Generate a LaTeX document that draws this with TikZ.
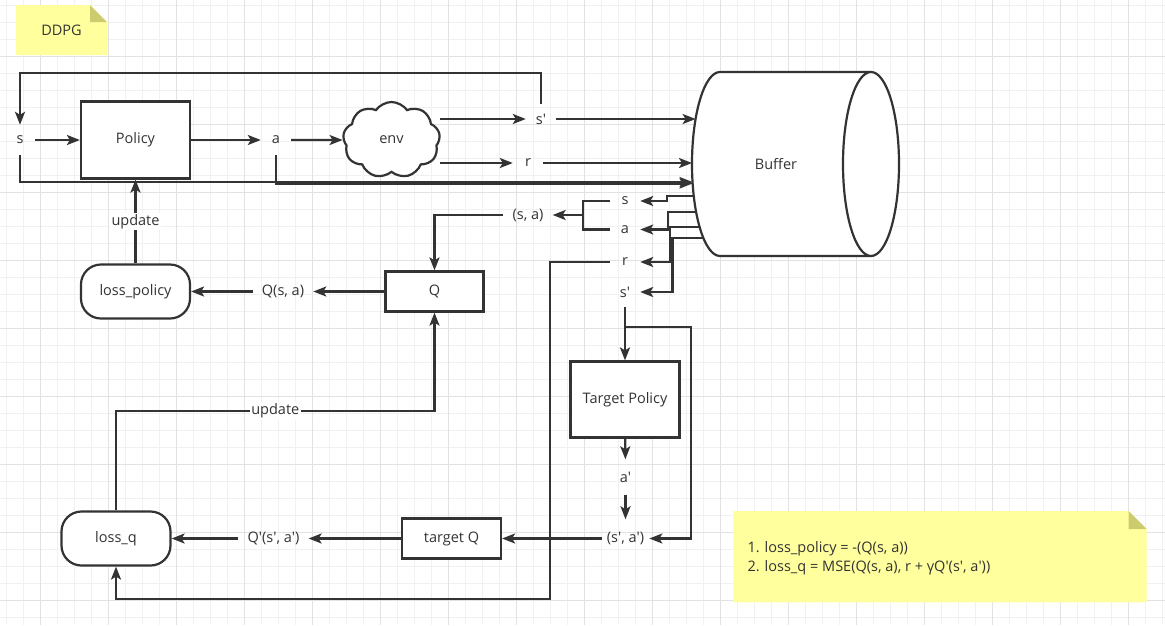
\documentclass[tikz,border=0pt]{standalone}
\usepackage{fontspec}
\setmainfont{Open Sans}
\usetikzlibrary{arrows.meta,shapes.symbols,calc}
\definecolor{ink}{RGB}{51,51,51}
\definecolor{gridminor}{RGB}{241,241,241}
\definecolor{gridmajor}{RGB}{226,226,226}
\definecolor{notey}{RGB}{255,255,158}
\definecolor{notefold}{RGB}{204,204,110}
\newcommand\pr{\textquotesingle}
\begin{document}
\begin{tikzpicture}[x=1pt,y=-1pt, font=\fontsize{14.5}{17}\selectfont, text=ink,
 line/.style={draw=ink,line width=2.2pt},
 arr/.style={line,-{Stealth[length=13pt,width=10pt,inset=3pt]}},
 box/.style={line,fill=white,inner sep=0pt},
 lab/.style={inner xsep=9pt,inner ysep=0pt,minimum width=30pt,minimum height=30pt},
 pill/.style={box,rounded corners=20pt},
 upd/.style={fill=white,inner sep=1.5pt},
]
\useasboundingbox (0,0) rectangle (1165,625);
\fill[white] (0,0) rectangle (1165,625);
% grid
\foreach \x in {6.7,23.7,...,1165} {\draw[gridminor,line width=1pt] (\x,0) -- (\x,625);}
\foreach \y in {5.3,22.3,...,625} {\draw[gridminor,line width=1pt] (0,\y) -- (1165,\y);}
\foreach \x in {40.7,108.7,...,1165} {\draw[gridmajor,line width=1pt] (\x,0) -- (\x,625);}
\foreach \y in {56.3,124.3,...,625} {\draw[gridmajor,line width=1pt] (0,\y) -- (1165,\y);}

% DDPG note
\fill[notey] (16,5) -- (90,5) -- (107,22) -- (107,55) -- (16,55) -- cycle;
\fill[notefold] (90,5) -- (90,22) -- (107,22) -- cycle;
\node (ddpg) at (61.5,30) {DDPG};

% formula note
\fill[notey] (733.3,511) -- (1128.5,511) -- (1146.7,529) -- (1146.7,602.3) -- (733.3,602.3) -- cycle;
\fill[notefold] (1128.5,511) -- (1128.5,529) -- (1146.7,529) -- cycle;
\node[align=left,anchor=west,font=\fontsize{14.5}{19.3}\selectfont] (formula) at (744,558.5)
  {1. loss\_policy = -(Q(s, a))\\2. loss\_q = MSE(Q(s, a), r + γQ\pr(s\pr, a\pr))};

% buffer cylinder
\filldraw[line,fill=white] (871,72) -- (720,72) arc[start angle=270,end angle=90,x radius=28,y radius=92] -- (871,256);
\draw[line,fill=white] (871,164) ellipse[x radius=28,y radius=92];
\node (buffer) at (776,164) {Buffer};
\coordinate (bSp) at (695.6,119);
\coordinate (bR) at (692,163);
\coordinate (bS1) at (692.5,182);
\coordinate (bA1) at (692.5,183.5);
\coordinate (bS2) at (693.8,196);
\coordinate (bA2) at (696.1,212);
\coordinate (bR2) at (699.6,227);
\coordinate (bSp2) at (703.4,238);

% top row
\node[box,minimum width=109pt,minimum height=77pt] (policy) at (135.5,140) {Policy};
\node[lab] (slab) at (20,140) {s};
\node[lab] (alab) at (276,140) {a};
\node[cloud,cloud puffs=9,cloud puff arc=110,aspect=1.3,line,fill=white,minimum width=97pt,minimum height=76pt,inner sep=0pt] (env) at (391.5,140) {env};
\node[lab] (sp1) at (541,119) {s\pr};
\node[lab] (r1) at (528,163) {r};

\draw[arr] (slab) -- (policy);
\draw[arr] (policy) -- (alab);
\draw[arr] (alab) -- (env);
\draw[arr] (env.east |- sp1) -- (sp1);
\draw[arr] (env.east |- r1) -- (r1);
\draw[arr] (sp1) -- (bSp);
\draw[arr] (r1) -- (bR);
\draw[arr] (sp1.north) -- ++(0,-31) -| (slab.north);
\draw[arr] (slab.south) |- (bS1);
\draw[arr] (alab.south) |- (bA1);

% buffer outputs
\node[lab] (sb) at (625,201) {s};
\node[lab] (ab) at (625,229.5) {a};
\node[lab] (rb) at (625,262) {r};
\node[lab] (spb) at (625,292) {s\pr};
\draw[arr] (bS2) -- ++(-27,0) |- (sb.east);
\draw[arr] (bA2) -- ++(-28.5,0) |- (ab.east);
\draw[arr] (bR2) -- ++(-29.6,0) |- (rb.east);
\draw[arr] (bSp2) -- ++(-31,0) |- (spb.east);

% (s,a) and Q
\draw[line] (sb.west) -- ++(-27,0) |- (ab.west);
\coordinate (brk) at (583,215);
\node[lab] (sa) at (528,215) {(s, a)};
\draw[arr] (brk) -- (sa);
\node[box,minimum width=98pt,minimum height=40pt] (q) at (434.5,291.5) {Q};
\draw[arr] (sa.west) -| (q.north);
\node[lab] (qsa) at (283,291.5) {Q(s, a)};
\draw[arr] (q) -- (qsa);
\node[pill,minimum width=109pt,minimum height=54pt] (lp) at (135.5,291.5) {loss\_policy};
\draw[arr] (qsa) -- (lp);
\draw[arr] (lp) -- node[upd]{update} (policy);

% target branch
\node[box,minimum width=109pt,minimum height=76pt] (tp) at (625,399.5) {Target Policy};
\node[lab,minimum height=35pt] (ap) at (625.5,477) {a\pr};
\node[lab,minimum height=38pt,inner xsep=5pt] (spa) at (625.5,538.5) {(s\pr, a\pr)};
\draw[arr] (spb) -- (tp);
\draw[arr] (tp) -- (ap);
\draw[arr] (ap) -- (spa);
\path (spb.south) ++(0,20) coordinate (br2);
\draw[arr] (br2) -- ++(65.7,0) |- (spa.east);
\node[box,minimum width=99pt,minimum height=40pt] (tq) at (451.5,538.5) {target Q};
\draw[arr] (spa) -- (tq);
\node[lab] (qp) at (273.5,538.5) {Q\pr(s\pr, a\pr)};
\draw[arr] (tq) -- (qp);
\node[pill,minimum width=109pt,minimum height=54pt] (lq) at (116,538.5) {loss\_q};
\draw[arr] (qp) -- (lq);
\draw[arr] (lq.north) -- ++(0,-99.5) -| node[upd,pos=0.25]{update} (q.south);
\draw[arr] (rb.west) -- ++(-60,0) -- ++(0,337) -| (lq.south);
\end{tikzpicture}
\end{document}
